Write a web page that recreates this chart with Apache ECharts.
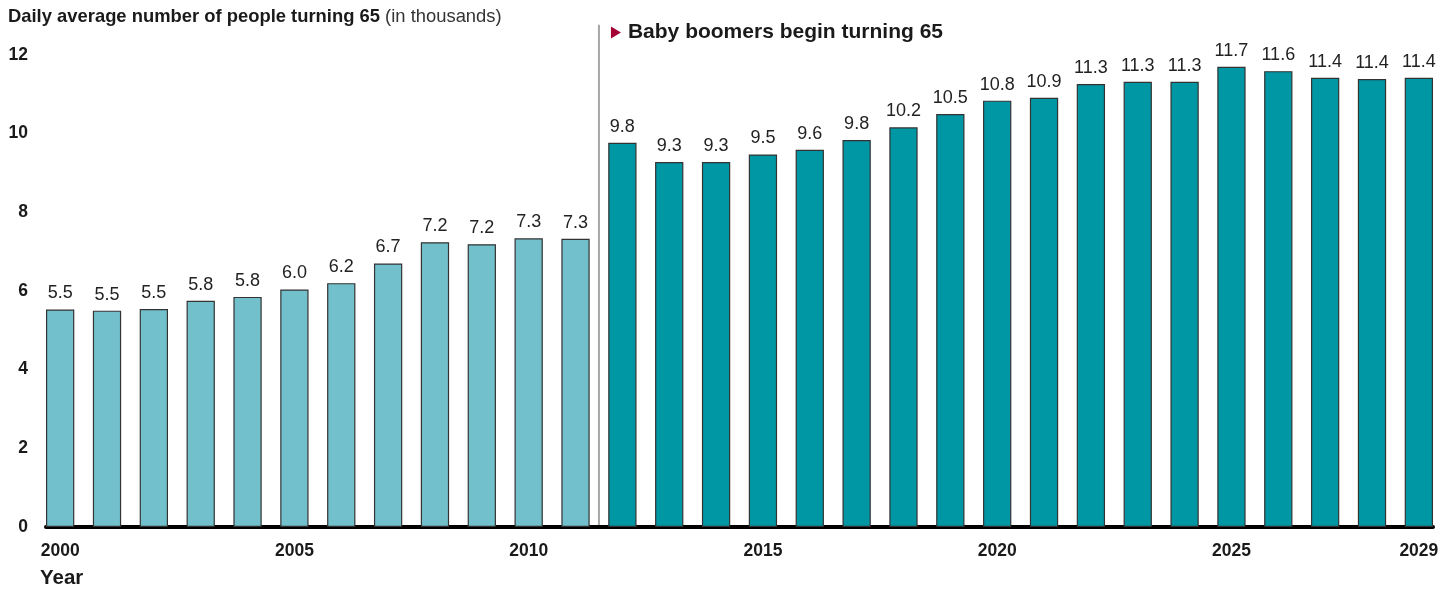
<!DOCTYPE html>
<html>
<head>
<meta charset="utf-8">
<script src="https://cdn.jsdelivr.net/npm/echarts@6/dist/echarts.min.js"></script>
<style>
  html, body { margin: 0; padding: 0; background: #fff; }
  #chart { width: 1456px; height: 591px; }
</style>
</head>
<body>
<div id="chart"></div>
<script>
// ---- Data ----
const years = [2000, 2001, 2002, 2003, 2004, 2005, 2006, 2007, 2008, 2009,
               2010, 2011, 2012, 2013, 2014, 2015, 2016, 2017, 2018, 2019,
               2020, 2021, 2022, 2023, 2024, 2025, 2026, 2027, 2028, 2029];
// daily average number of people turning 65 (thousands)
const values = [5.53, 5.50, 5.54, 5.75, 5.85, 6.04, 6.20, 6.70, 7.24, 7.19,
                7.34, 7.33, 9.77, 9.28, 9.28, 9.47, 9.59, 9.84, 10.16, 10.50,
                10.84, 10.91, 11.26, 11.32, 11.32, 11.70, 11.59, 11.42, 11.39, 11.42];
// printed value labels
const valueLabels = ['5.5', '5.5', '5.5', '5.8', '5.8', '6.0', '6.2', '6.7', '7.2', '7.2',
                     '7.3', '7.3', '9.8', '9.3', '9.3', '9.5', '9.6', '9.8', '10.2', '10.5',
                     '10.8', '10.9', '11.3', '11.3', '11.3', '11.7', '11.6', '11.4', '11.4', '11.4'];
const xTickYears = [2000, 2005, 2010, 2015, 2020, 2025, 2029];
const yTicks = [0, 2, 4, 6, 8, 10, 12];
const boomerStartYear = 2012;
const titleBold = 'Daily average number of people turning 65';
const titleNormal = ' (in thousands)';
const annotationText = 'Baby boomers begin turning 65';
const xAxisName = 'Year';

// ---- Styles ----
const FONT = '"Liberation Sans", Arial, Helvetica, sans-serif';
const LIGHT = '#72C0CC';
const DARK = '#0097A5';
const BAR_FRAC = 0.604; // bar width as fraction of year spacing

const chart = echarts.init(document.getElementById('chart'), null, { renderer: 'canvas' });

const seriesData = years.map((y, i) => ({
  value: [y, values[i]],
  itemStyle: { color: y >= boomerStartYear ? DARK : LIGHT },
  label: { formatter: valueLabels[i] }
}));

const gridLeft = 46, gridRight = 23, gridTop = 55, gridBottom = 64;
const plotW = 1456 - gridLeft - gridRight;
const xMin = years[0] - BAR_FRAC / 2;
const xMax = years[years.length - 1] + BAR_FRAC / 2;
const barPx = plotW / (xMax - xMin) * BAR_FRAC;

chart.setOption({
  animation: false,
  backgroundColor: '#fff',
  grid: { left: gridLeft, right: gridRight, top: gridTop, bottom: gridBottom, containLabel: false },
  xAxis: {
    type: 'value',
    min: xMin,
    max: xMax,
    splitLine: { show: false },
    axisTick: { show: false },
    axisLine: { show: true, onZero: true, lineStyle: { color: '#000', width: 4 } },
    axisLabel: {
      customValues: xTickYears,
      formatter: v => String(Math.round(v)),
      color: '#1a1a1a',
      fontFamily: FONT,
      fontSize: 17.5,
      fontWeight: 'bold',
      margin: 15
    }
  },
  yAxis: {
    type: 'value',
    min: 0,
    max: 12,
    interval: 2,
    splitLine: { show: false },
    axisLine: { show: false },
    axisTick: { show: false },
    axisLabel: {
      customValues: yTicks,
      color: '#1a1a1a',
      fontFamily: FONT,
      fontSize: 17.5,
      fontWeight: 'bold',
      margin: 18
    }
  },
  series: [{
    type: 'bar',
    data: seriesData,
    barWidth: barPx,
    itemStyle: { borderColor: '#333', borderWidth: 1.2 },
    label: {
      show: true,
      position: 'top',
      distance: 7,
      color: '#222',
      fontFamily: FONT,
      fontSize: 18
    },
    z: 2
  }]
});

// ---- Annotations placed through the axis scales ----
const splitX = chart.convertToPixel({ xAxisIndex: 0 }, boomerStartYear - 0.5);
const baseY = chart.convertToPixel({ yAxisIndex: 0 }, 0);
const topY = chart.convertToPixel({ yAxisIndex: 0 }, 12.77);
const annY = chart.convertToPixel({ yAxisIndex: 0 }, 12.57);

chart.setOption({
  graphic: [
    {
      type: 'text', left: 8, top: 8,
      style: {
        text: '{b|' + titleBold + '}{n|' + titleNormal + '}',
        rich: {
          b: { fontFamily: FONT, fontSize: 18.4, fontWeight: 'bold', fill: '#1a1a1a' },
          n: { fontFamily: FONT, fontSize: 18.4, fill: '#333' }
        }
      }
    },
    {
      type: 'text', left: 40, top: 568,
      style: { text: xAxisName, fontFamily: FONT, fontSize: 20.5, fontWeight: 'bold', fill: '#1a1a1a' }
    },
    {
      type: 'line', z: 5,
      shape: { x1: splitX, y1: topY, x2: splitX, y2: baseY - 2 },
      style: { stroke: '#a6a6a6', lineWidth: 2 }
    },
    {
      type: 'polygon', z: 5,
      shape: { points: [[splitX + 12, annY - 6], [splitX + 22, annY], [splitX + 12, annY + 6]] },
      style: { fill: '#A50034' }
    },
    {
      type: 'text', z: 5,
      x: splitX + 29, y: annY,
      style: {
        text: annotationText, fontFamily: FONT, fontSize: 21, fontWeight: 'bold',
        fill: '#1a1a1a', verticalAlign: 'middle', align: 'left'
      }
    }
  ]
});
</script>
</body>
</html>
